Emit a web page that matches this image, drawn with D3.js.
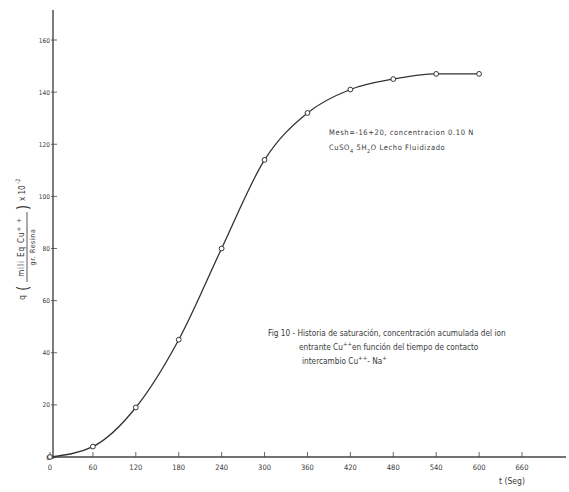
<!DOCTYPE html>
<html><head><meta charset="utf-8">
<script src="https://cdn.jsdelivr.net/npm/d3@7"></script>
<style>
body{margin:0;background:#fff;}
svg text{font-family:"DejaVu Sans Condensed","DejaVu Sans",sans-serif;fill:#3a3a3a;}
</style></head>
<body><svg id="c" width="569" height="492"></svg>
<script>
const times = [0, 60, 120, 180, 240, 300, 360, 420, 480, 540, 600];
const values = [0, 4, 19, 45, 80, 114, 132, 141, 145, 147, 147];
const xTicks = [0, 60, 120, 180, 240, 300, 360, 420, 480, 540, 600, 660];
const yTicks = [0, 20, 40, 60, 80, 100, 120, 140, 160];
const noteMesh = ["Mesh=-16+20, concentracion  0.10 N"];

const svg = d3.select("#c");
const x = d3.scaleLinear().domain([0, 660]).range([50, 522]);
const y = d3.scaleLinear().domain([0, 160]).range([457, 40]);
const ink = "#444";

// x axis
svg.append("line").attr("x1", 47).attr("x2", 566).attr("y1", y(0)).attr("y2", y(0))
  .attr("stroke", ink).attr("stroke-width", 1.4);
const xa = svg.append("g");
xa.selectAll("line").data(xTicks).join("line")
  .attr("x1", d => x(d)).attr("x2", d => x(d)).attr("y1", y(0)).attr("y2", y(0) - 5)
  .attr("stroke", ink).attr("stroke-width", 0.8);
xa.selectAll("text").data(xTicks).join("text")
  .attr("x", d => x(d)).attr("y", y(0) + 13).attr("text-anchor", "middle")
  .attr("font-size", 7.5).text(d => d);
svg.append("text").attr("x", 512).attr("y", 484).attr("text-anchor", "middle")
  .attr("font-size", 8.5).text("t (Seg)");

// y axis
svg.append("line").attr("x1", 53).attr("x2", 53).attr("y1", 10).attr("y2", y(0) + 2)
  .attr("stroke", ink).attr("stroke-width", 1.4);
const ya = svg.append("g");
ya.selectAll("line").data(yTicks).join("line")
  .attr("x1", 51).attr("x2", 57).attr("y1", d => y(d)).attr("y2", d => y(d))
  .attr("stroke", ink).attr("stroke-width", 0.8);
ya.selectAll("text").data(yTicks).join("text")
  .attr("x", 50).attr("y", d => y(d) + 2.5).attr("text-anchor", "end")
  .attr("font-size", 6.5).text(d => d);

// y label (rotated, fraction)
const lab = svg.append("g").attr("transform", "translate(25,242) rotate(-90)");
lab.append("text").attr("x", -58).attr("y", 0).attr("font-size", 8.5).text("q");
lab.append("text").attr("x", -49).attr("y", 3).attr("font-size", 15).text("(");
const num = lab.append("text").attr("x", -5).attr("y", -1).attr("font-size", 8)
  .attr("text-anchor", "middle").attr("letter-spacing", 0.9);
num.append("tspan").text("mili Eq Cu");
num.append("tspan").attr("dy", -3).attr("font-size", 6.5).text("+ +");
lab.append("line").attr("x1", -40).attr("x2", 30).attr("y1", 2).attr("y2", 2)
  .attr("stroke", ink).attr("stroke-width", 0.9);
lab.append("text").attr("x", -5).attr("y", 10).attr("font-size", 7).attr("text-anchor", "middle")
  .attr("letter-spacing", 0.6).text("gr. Resina");
lab.append("text").attr("x", 32).attr("y", 3).attr("font-size", 15).text(")");
lab.append("text").attr("x", 41).attr("y", 0).attr("font-size", 8).text("x 10");
lab.append("text").attr("x", 58).attr("y", -5).attr("font-size", 6).text("-2");

// curve
const line = d3.line().x((d, i) => x(times[i])).y(d => y(d)).curve(d3.curveMonotoneX);
svg.append("path").datum(values).attr("d", line).attr("fill", "none")
  .attr("stroke", "#333").attr("stroke-width", 1.3);
svg.selectAll("circle.p").data(values).join("circle").attr("class", "p")
  .attr("cx", (d, i) => x(times[i])).attr("cy", d => y(d)).attr("r", 2.4)
  .attr("fill", "#fff").attr("stroke", "#333").attr("stroke-width", 1);

// notes
svg.append("text").attr("x", 329).attr("y", 135).attr("font-size", 7.5)
  .attr("letter-spacing", 0.6).text(noteMesh[0]);
const n2 = svg.append("text").attr("x", 329).attr("y", 150).attr("font-size", 7.5).attr("letter-spacing", 0.6);
n2.append("tspan").text("CuSO");
n2.append("tspan").attr("dy", 2.5).attr("font-size", 5.5).text("4");
n2.append("tspan").attr("dy", -2.5).text(" 5H");
n2.append("tspan").attr("dy", 2.5).attr("font-size", 5.5).text("2");
n2.append("tspan").attr("dy", -2.5).text("O  Lecho Fluidizado");

const f1 = svg.append("text").attr("x", 268).attr("y", 336).attr("font-size", 8.2);
f1.append("tspan").text("Fig 10 - Historia de saturación, concentración acumulada del ion");
const f2 = svg.append("text").attr("x", 299).attr("y", 350).attr("font-size", 8.2);
f2.append("tspan").text("entrante Cu");
f2.append("tspan").attr("dy", -4).attr("font-size", 6).text("++");
f2.append("tspan").attr("dy", 4).text("en función del tiempo de contacto");
const f3 = svg.append("text").attr("x", 302).attr("y", 364).attr("font-size", 8.2);
f3.append("tspan").text("intercambio Cu");
f3.append("tspan").attr("dy", -4).attr("font-size", 6).text("++");
f3.append("tspan").attr("dy", 4).text("- Na");
f3.append("tspan").attr("dy", -4).attr("font-size", 6).text("+");
</script></body></html>
